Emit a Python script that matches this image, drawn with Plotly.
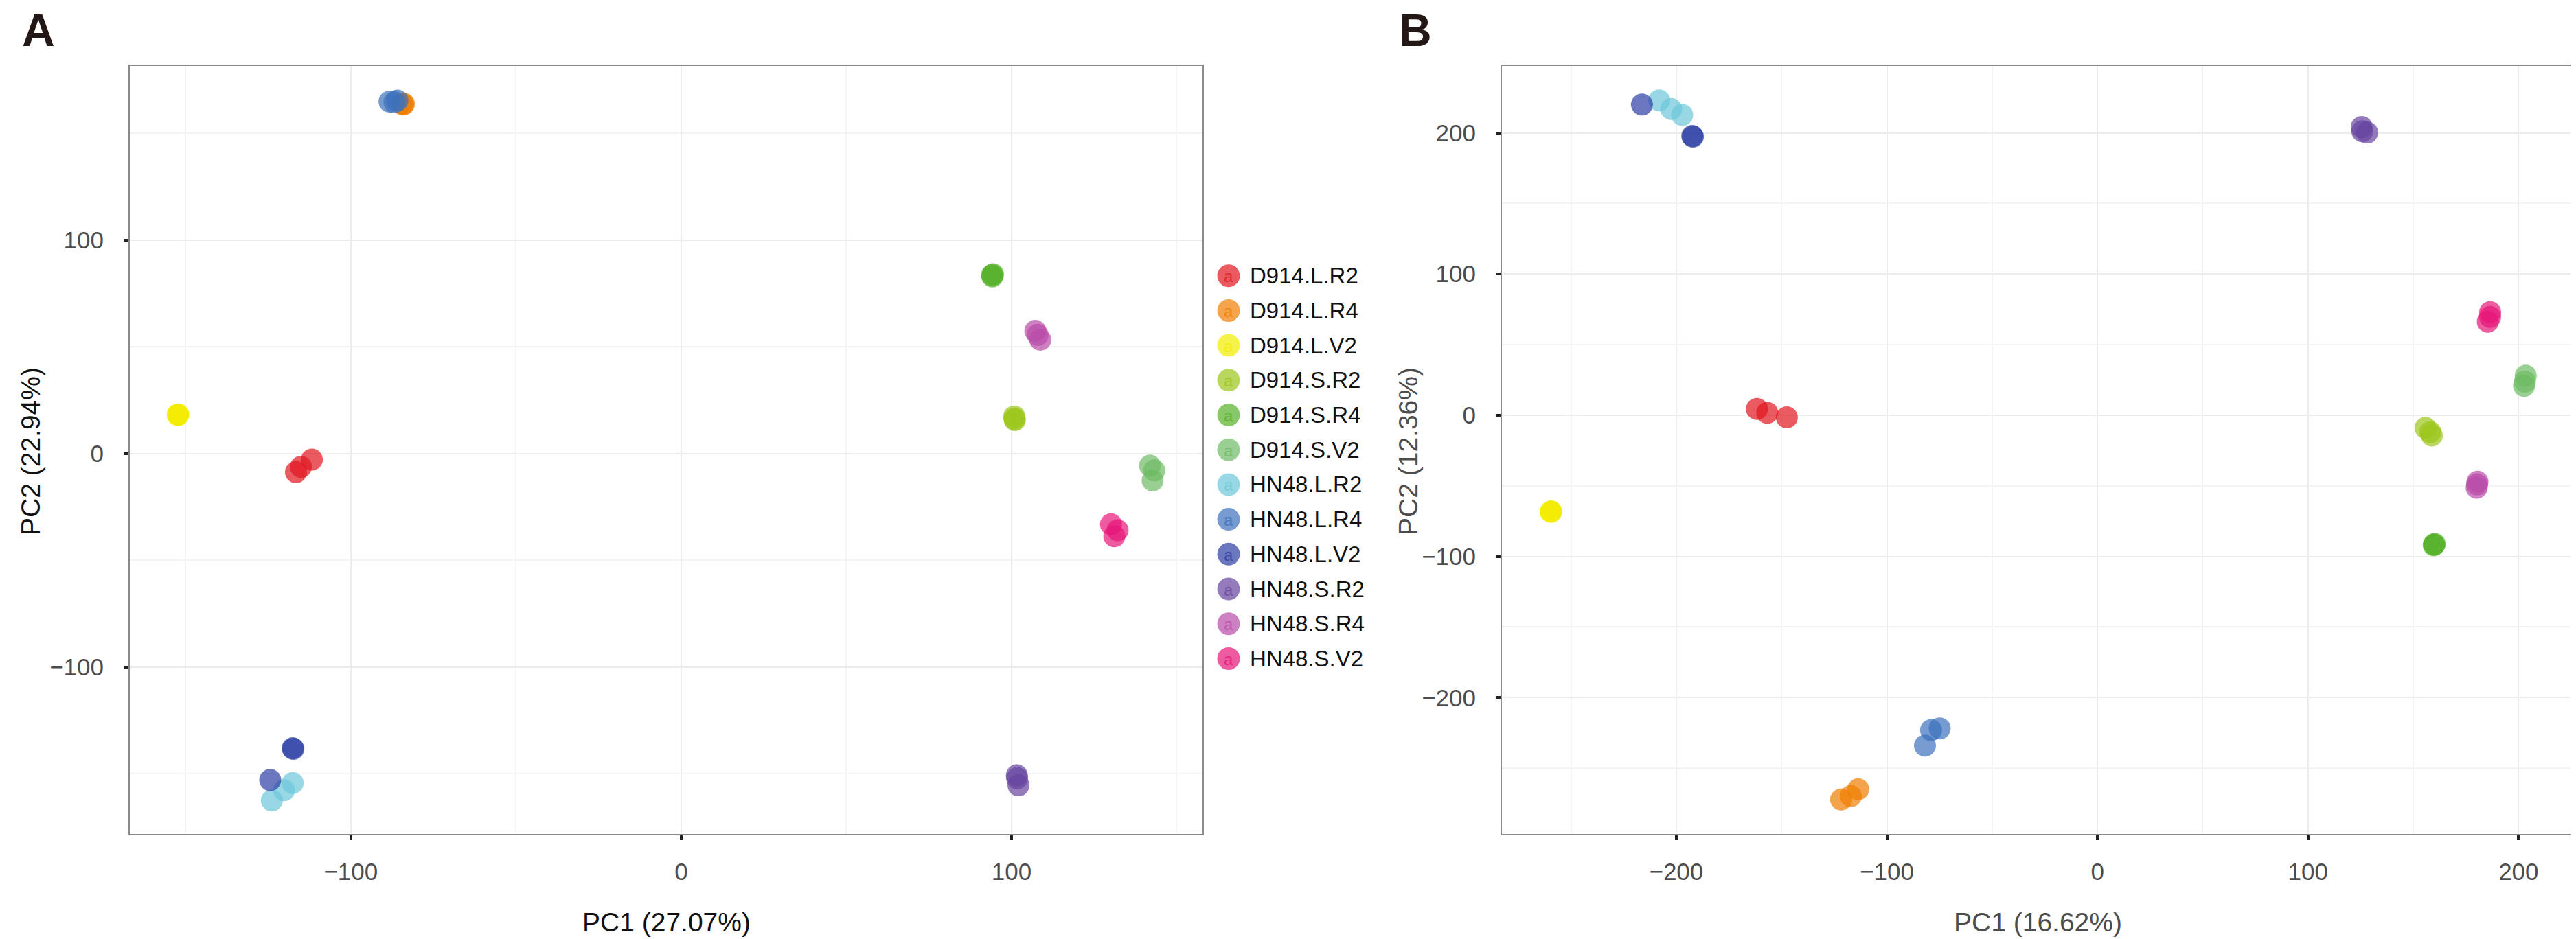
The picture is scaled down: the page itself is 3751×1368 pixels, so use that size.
import plotly.graph_objects as go

W, H = 3751, 1368

groups = ["D914.L.R2", "D914.L.R4", "D914.L.V2", "D914.S.R2", "D914.S.R4", "D914.S.V2",
          "HN48.L.R2", "HN48.L.R4", "HN48.L.V2", "HN48.S.R2", "HN48.S.R4", "HN48.S.V2"]
colors = ["#E0141E", "#EE7D00", "#F2EC00", "#9BC61A", "#55B12A", "#6DBA64",
          "#6CC8DA", "#3A70BE", "#2C3EA5", "#6645A0", "#B94BA8", "#E61578"]

sample_group = ["D914.L.R2"] * 3 + ["D914.L.R4"] * 3 + ["D914.L.V2"] * 3 + \
               ["D914.S.R2"] * 3 + ["D914.S.R4"] * 3 + ["D914.S.V2"] * 3 + \
               ["HN48.L.R2"] * 3 + ["HN48.L.R4"] * 3 + ["HN48.L.V2"] * 3 + \
               ["HN48.S.R2"] * 3 + ["HN48.S.R4"] * 3 + ["HN48.S.V2"] * 3

# Panel A scores
pc1_a = [-111.8, -115.1, -116.6,
         -83.9, -84.2, -84.5,
         -152.4, -152.3, -152.2,
         100.8, 101.0, 100.9,
         94.1, 94.4, 94.2,
         141.9, 143.2, 142.7,
         -123.9, -120.2, -117.6,
         -88.3, -85.9, -86.8,
         -117.6, -117.4, -124.4,
         101.6, 101.7, 102.1,
         107.2, 107.9, 108.7,
         130.1, 132.1, 131.1]
pc2_a = [-2.8, -6.2, -8.7,
         163.8, 163.5, 164.0,
         18.2, 18.0, 18.3,
         17.4, 15.7, 16.3,
         83.6, 84.0, 83.0,
         -5.6, -7.9, -12.6,
         -162.5, -157.7, -154.3,
         164.9, 165.4, 164.6,
         -138.0, -138.3, -152.9,
         -150.7, -152.1, -155.4,
         57.5, 55.6, 53.3,
         -33.1, -35.9, -38.7]

# Panel B scores
pc1_b = [-161.7, -156.8, -147.5,
         -121.7, -117.1, -113.6,
         -259.5, -259.4, -259.6,
         155.8, 158.1, 158.8,
         159.9, 160.2, 159.7,
         203.4, 203.0, 202.6,
         -208.1, -202.4, -197.2,
         -79.0, -74.9, -81.9,
         -216.3, -192.1, -192.4,
         125.5, 128.1, 125.8,
         180.5, 180.1, 180.3,
         186.5, 186.5, 185.4]
pc2_b = [4.5, 1.7, -1.5,
         -272.2, -269.7, -264.9,
         -68.3, -68.1, -68.4,
         -8.9, -11.9, -14.4,
         -91.6, -91.2, -92.0,
         28.0, 23.8, 20.8,
         223.0, 216.9, 212.7,
         -223.1, -221.8, -234.0,
         220.0, 197.3, 197.8,
         204.1, 200.2, 201.1,
         -47.1, -51.3, -49.0,
         73.0, 69.6, 66.2]

x_title_a, y_title_a = "PC1 (27.07%)", "PC2 (22.94%)"
x_title_b, y_title_b = "PC1 (16.62%)", "PC2 (12.36%)"
ticks_a_x, ticks_a_y = [-100, 0, 100], [-100, 0, 100]
minor_a_x, minor_a_y = [-150, -50, 50, 150], [-150, -50, 50, 150]
ticks_b_x, ticks_b_y = [-200, -100, 0, 100, 200], [-200, -100, 0, 100, 200]
minor_b_x, minor_b_y = [-250, -150, -50, 50, 150], [-250, -150, -50, 50, 150]

FONT = "Liberation Sans, Arial, sans-serif"
ALPHA = 0.7
MSIZE = 32

fig = go.Figure()
for panel, (xs, ys, xa, ya) in enumerate([(pc1_a, pc2_a, "x", "y"), (pc1_b, pc2_b, "x2", "y2")]):
    for g, c in zip(groups, colors):
        idx = [i for i, s in enumerate(sample_group) if s == g]
        fig.add_trace(go.Scatter(
            x=[xs[i] for i in idx], y=[ys[i] for i in idx],
            mode="markers", name=g, legendgroup=g, showlegend=False,
            xaxis=xa, yaxis=ya,
            marker=dict(size=MSIZE, color=c, opacity=ALPHA, line=dict(width=0)),
        ))


def px_x(p):
    return p / W


def px_y(p):
    return 1 - p / H


top, bottom = 88, 1207
a_left, a_right = 181, 1743
b_left, b_right = 2179, 3740

axis_common = dict(
    showline=True, linecolor="#8a8a8a", linewidth=2, mirror=True,
    ticks="outside", ticklen=7, tickwidth=4, tickcolor="#222222",
    showgrid=True, gridcolor="#ececec", gridwidth=2,
    zeroline=False,
    tickfont=dict(family=FONT, size=35, color="#4d4d4d"),
)


def minor(vals):
    return dict(tickvals=vals, showgrid=True, gridcolor="#f4f4f4", gridwidth=2, ticks="")


fig.update_layout(
    width=W, height=H,
    margin=dict(l=0, r=0, t=0, b=0),
    paper_bgcolor="white", plot_bgcolor="white",
    font=dict(family=FONT),
    showlegend=False,
    xaxis=dict(domain=[px_x(a_left), px_x(a_right)], range=[-166.9, 157.8],
               tickvals=ticks_a_x, minor=minor(minor_a_x), anchor="y",
               ticklabelstandoff=16, **axis_common),
    yaxis=dict(domain=[px_y(bottom), px_y(top)], range=[-178.2, 181.6],
               tickvals=ticks_a_y, minor=minor(minor_a_y), anchor="x",
               ticklabelstandoff=22, **axis_common),
    xaxis2=dict(domain=[px_x(b_left), px_x(b_right)], range=[-282.8, 226.3],
                tickvals=ticks_b_x, minor=minor(minor_b_x), anchor="y2",
                ticklabelstandoff=16, **axis_common),
    yaxis2=dict(domain=[px_y(bottom), px_y(top)], range=[-296.6, 247.4],
                tickvals=ticks_b_y, minor=minor(minor_b_y), anchor="x2",
                ticklabelstandoff=22, **axis_common),
)

annotations = []
# Panel labels
for lab, xpx in (("A", 22), ("B", 2027)):
    annotations.append(dict(text="<b>%s</b>" % lab, x=px_x(xpx), y=px_y(36), xref="paper", yref="paper",
                            xanchor="left", yanchor="middle", showarrow=False,
                            font=dict(family=FONT, size=66, color="#231815")))
# Axis titles
for txt, cx, col in ((x_title_a, (a_left + a_right) / 2, "#111111"), (x_title_b, (b_left + b_right) / 2, "#4d4d4d")):
    annotations.append(dict(text=txt, x=px_x(cx), y=px_y(1335), xref="paper", yref="paper",
                            xanchor="center", yanchor="middle", showarrow=False,
                            font=dict(family=FONT, size=39, color=col)))
for txt, cx, col in ((y_title_a, 36, "#111111"), (y_title_b, 2042, "#4d4d4d")):
    annotations.append(dict(text=txt, x=px_x(cx), y=px_y(650), xref="paper", yref="paper",
                            xanchor="center", yanchor="middle", showarrow=False, textangle=-90,
                            font=dict(family=FONT, size=39, color=col)))

# Legend (manual keys)
shapes = []
leg_x, leg_y0, leg_dy, leg_r = 1781, 393.7, 50.7, 16.5
for k, (g, c) in enumerate(zip(groups, colors)):
    cy = leg_y0 + k * leg_dy
    shapes.append(dict(type="circle", xref="paper", yref="paper",
                       xsizemode="pixel", ysizemode="pixel",
                       xanchor=px_x(leg_x), yanchor=px_y(cy),
                       x0=-leg_r, x1=leg_r, y0=-leg_r, y1=leg_r,
                       fillcolor=c, opacity=ALPHA, line=dict(width=0), layer="above"))
    annotations.append(dict(text="a", x=px_x(leg_x), y=px_y(cy + 1), xref="paper", yref="paper",
                            xanchor="center", yanchor="middle", showarrow=False,
                            font=dict(family=FONT, size=24, color=c), opacity=0.75))
    annotations.append(dict(text=g, x=px_x(1810), y=px_y(cy), xref="paper", yref="paper",
                            xanchor="left", yanchor="middle", showarrow=False,
                            font=dict(family=FONT, size=33, color="#111111")))

fig.update_layout(annotations=annotations, shapes=shapes)
fig.write_html("out.html")
